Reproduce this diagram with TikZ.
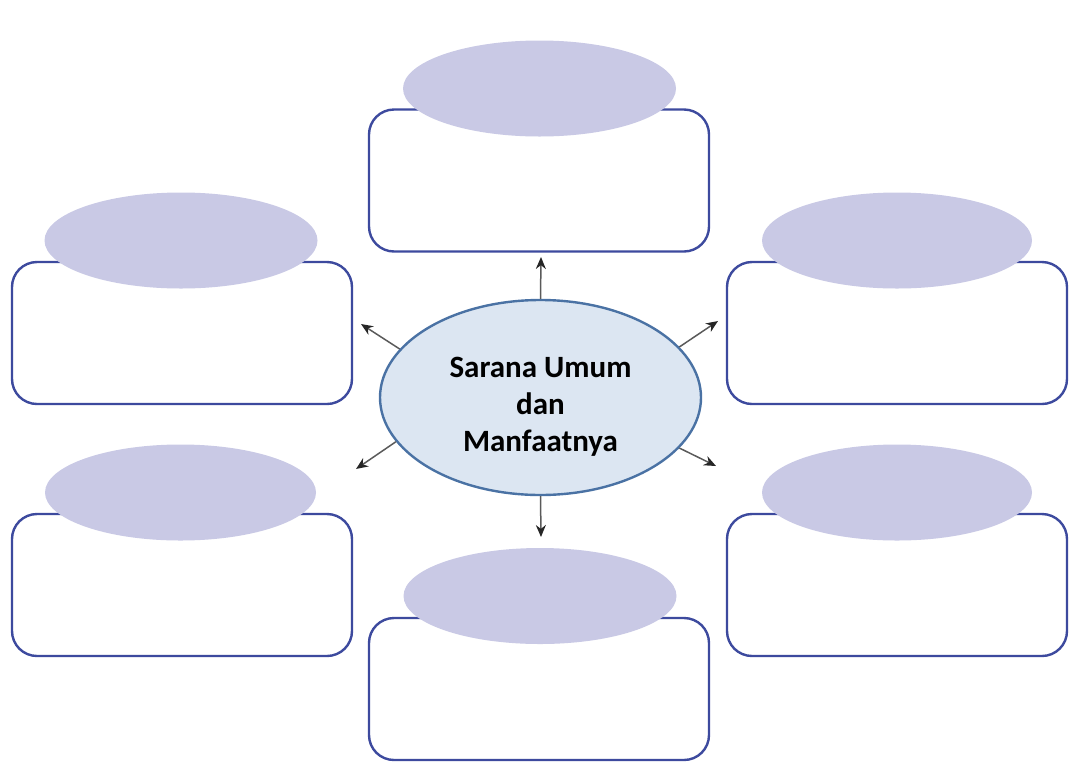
\documentclass[tikz,border=0pt]{standalone}
\usepackage{fontspec}
\setmainfont{Carlito}
\usetikzlibrary{shapes.geometric,arrows.meta}
\pgfdeclarelayer{bg}
\pgfsetlayers{bg,main}
\definecolor{boxline}{HTML}{3D4A9E}
\definecolor{lidfill}{HTML}{C9C9E5}
\definecolor{hubfill}{HTML}{DCE6F2}
\definecolor{hubline}{HTML}{4A72A4}
\definecolor{arrowgray}{HTML}{5A5A5A}
\tikzset{
    card/.style={draw=boxline, line width=2.4pt, rounded corners=25pt, fill=white,
        minimum width=340pt, minimum height=142pt, inner sep=0pt},
    lid/.style={ellipse, fill=lidfill, minimum width=273pt, minimum height=96pt, inner sep=0pt},
    spoke/.style={draw=arrowgray, line width=1.5pt, -{Stealth[length=12pt,width=10pt,color=black!85]}}
}

\begin{document}
\begin{tikzpicture}[x=1pt, y=-1pt]
    \useasboundingbox (0, 0) rectangle (1089, 769);

    \node (hub) [ellipse, draw=hubline, fill=hubfill, line width=2.4pt,
        minimum width=321pt, minimum height=195pt,
        label={[align=center, yshift=-9pt, font=\fontsize{31}{37}\selectfont\bfseries]center:Sarana Umum\\dan\\Manfaatnya}]
        at (540.5, 397.5) {};

    \begin{pgfonlayer}{bg}
        \node (cardT) [card] at (539, 180.5) {};
        \node (cardUL) [card] at (182, 333) {};
        \node (cardUR) [card] at (897, 333) {};
        \node (cardLL) [card] at (182, 585) {};
        \node (cardLR) [card] at (897, 585) {};
        \node (cardB) [card] at (539, 689) {};
    \end{pgfonlayer}

    \node (lidT) [lid] at (539.5, 88.5) {};
    \node (lidUL) [lid] at (181, 240.5) {};
    \node (lidUR) [lid, minimum width=270pt] at (897, 240.5) {};
    \node (lidLL) [lid, minimum width=271pt] at (180.5, 492.5) {};
    \node (lidLR) [lid, minimum width=270pt] at (897, 492.5) {};
    \node (lidB) [lid] at (540, 596) {};

    \coordinate (tipT) at (541, 257);
    \coordinate (tipB) at (541, 537);
    \coordinate (tipUL) at (361, 324);
    \coordinate (tipUR) at (718, 321);
    \coordinate (tipLL) at (356, 469);
    \coordinate (tipLR) at (716, 466);

    \draw[spoke] (hub.north) -- (tipT);
    \draw[spoke] (hub.south) -- (tipB);
    \draw[spoke] (hub.161) -- (tipUL);
    \draw[spoke] (hub.20) -- (tipUR);
    \draw[spoke] (hub.197) -- (tipLL);
    \draw[spoke] (hub.340) -- (tipLR);
\end{tikzpicture}
\end{document}
